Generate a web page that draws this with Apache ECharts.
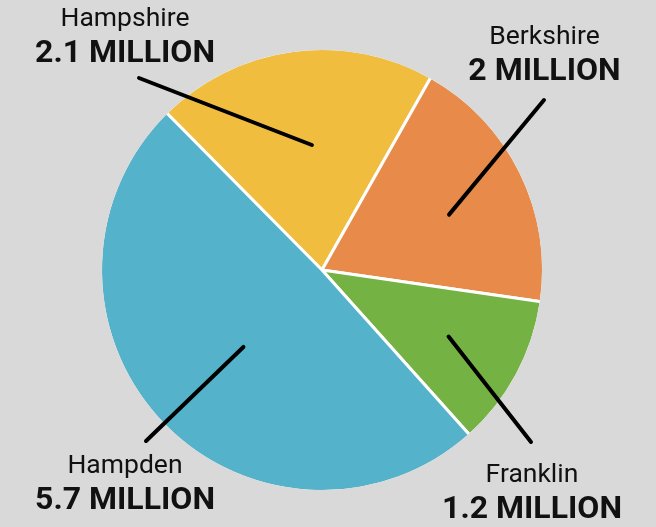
<!DOCTYPE html>
<html>
<head>
<meta charset="utf-8">
<script src="https://cdn.jsdelivr.net/npm/echarts@6/dist/echarts.min.js"></script>
<style>
html,body{margin:0;padding:0;background:#d9d9d9;}
#chart{width:656px;height:527px;}
</style>
</head>
<body>
<div id="chart"></div>
<script>
// ---- data ----
const counties = ['Hampshire', 'Berkshire', 'Franklin', 'Hampden'];
const millions = [2.1, 2, 1.2, 5.7];               // label values (millions)
const sliceShares = [20.6, 19.1, 11.1, 49.2];
const colors = ['#F1BD3E', '#E88A4A', '#75B244', '#54B3CA'];

// ---- layout ----
const CX = 322, CY = 270, R = 220, START = 134.7;
const labelPos = [
  { x: 125, y: 37, lx: 139, ly: 78, rf: 0.57, da: -3.0 },
  { x: 544.5, y: 55, lx: 544, ly: 100, rf: 0.63, da: -2.6 },
  { x: 532, y: 493, lx: 531, ly: 442, rf: 0.65, da: 0.45 },
  { x: 125, y: 484, lx: 146, ly: 441, rf: 0.50, da: 1.15 }
];

const total = sliceShares.reduce((a, b) => a + b, 0);
function midAngle(i) {
  let cum = 0;
  for (let k = 0; k < i; k++) cum += sliceShares[k];
  return START - (cum + sliceShares[i] / 2) / total * 360;
}

const pieData = counties.map((c, i) => ({
  name: c, value: sliceShares[i], itemStyle: { color: colors[i] }
}));
const labelData = counties.map((c, i) => ({
  name: c, value: sliceShares[i], millions: millions[i]
}));

const chart = echarts.init(document.getElementById('chart'), null, { renderer: 'canvas' });
chart.setOption({
  backgroundColor: '#d9d9d9',
  animation: false,
  series: [
    {
      type: 'pie', silent: true, z: 2,
      center: [CX, CY], radius: [0, R + 1.5],
      startAngle: START, clockwise: true,
      itemStyle: { borderColor: '#ffffff', borderWidth: 3 },
      label: { show: false }, labelLine: { show: false },
      data: pieData
    },
    {
      type: 'pie', silent: true, z: 2,
      center: [CX, CY], radius: [R, R + 8],
      itemStyle: { color: '#d9d9d9', borderWidth: 0 },
      label: { show: false }, labelLine: { show: false },
      data: [{ value: 1, name: '' }]
    },
    {
      type: 'pie', silent: true, z: 5,
      center: [CX, CY], radius: [0, R],
      startAngle: START, clockwise: true,
      avoidLabelOverlap: false,
      itemStyle: { color: 'rgba(0,0,0,0)', borderWidth: 0 },
      label: {
        show: true, position: 'outside',
        formatter: p => '{n|' + p.name + '}\n{v|' + p.data.millions + ' MILLION}',
        rich: {
          n: { fontFamily: 'Roboto', fontSize: 26.5, color: '#111', lineHeight: 34, align: 'center' },
          v: { fontFamily: 'Roboto', fontSize: 32, fontWeight: 'bold', color: '#111', lineHeight: 35, align: 'center' }
        }
      },
      labelLine: {
        show: true, length: 10, length2: 10, smooth: false,
        lineStyle: { color: '#000', width: 4, cap: 'round' }
      },
      labelLayout: function (params) {
        const i = params.dataIndex;
        const L = labelPos[i];
        const a = (midAngle(i) + L.da) * Math.PI / 180;
        const ix = CX + L.rf * R * Math.cos(a);
        const iy = CY - L.rf * R * Math.sin(a);
        return {
          x: L.x, y: L.y, align: 'center', verticalAlign: 'middle',
          labelLinePoints: [[L.lx, L.ly], [ix, iy]]
        };
      },
      data: labelData
    }
  ]
});
</script>
</body>
</html>
